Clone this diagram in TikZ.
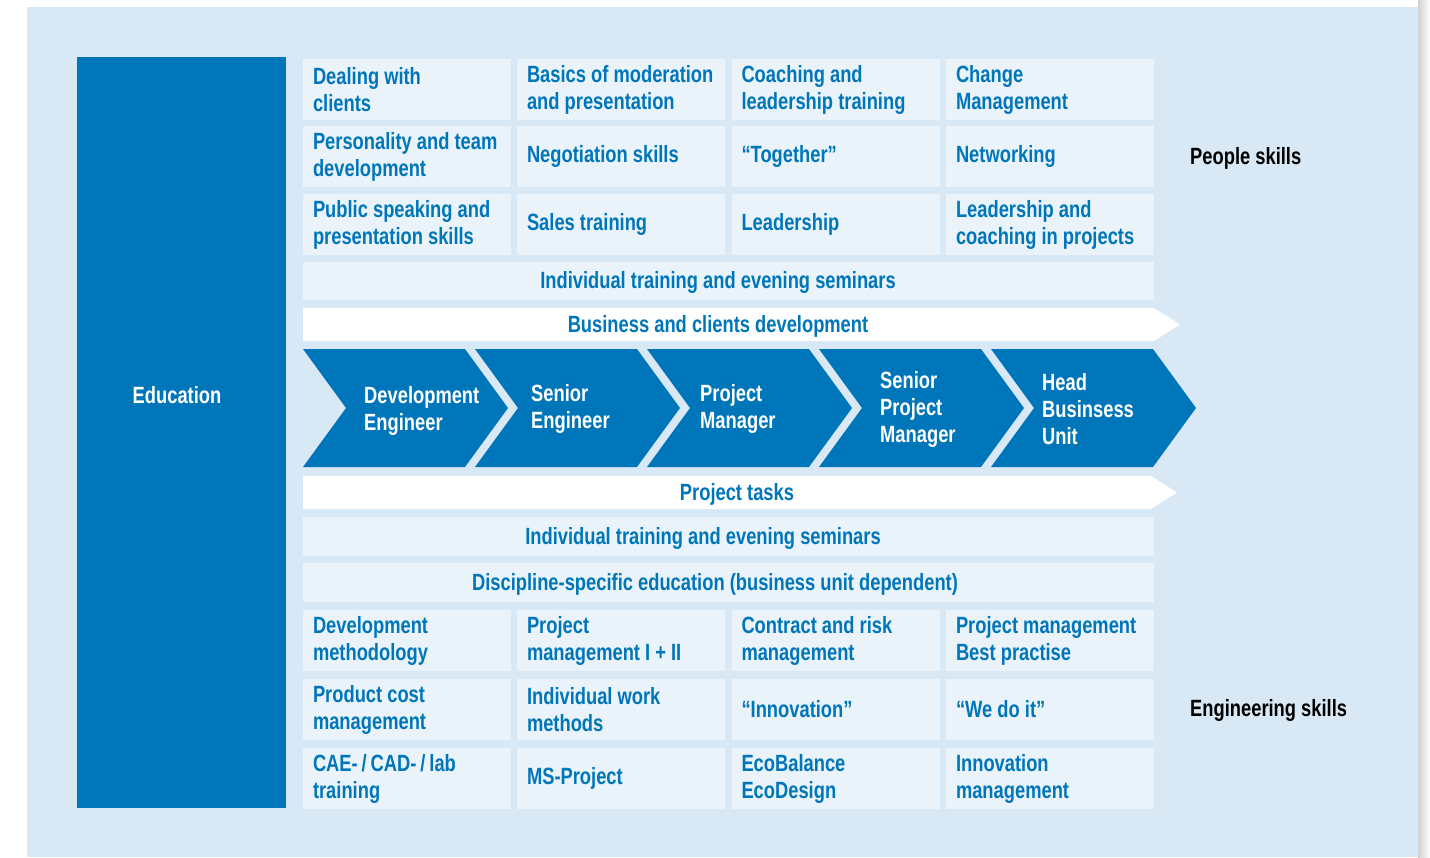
\documentclass[tikz,border=0pt]{standalone}
\usepackage{fontspec}
\setmainfont{Liberation Sans}[FakeStretch=0.78]
\usepackage{tikz}
\usetikzlibrary{positioning}
\definecolor{bleu}{RGB}{0,118,186}
\definecolor{fond}{RGB}{216,232,244}
\definecolor{case}{RGB}{234,243,250}
\newcommand{\skillfont}{\fontsize{23.5}{27}\selectfont\bfseries}

\begin{document}
\begin{tikzpicture}[x=1pt,y=-1pt,%
  cell/.style={fill=case,text=bleu,font=\skillfont,minimum width=208pt,minimum height=61pt,inner xsep=10pt,inner ysep=0pt,text width=188pt,align=flush left},%
  bandtext/.style={text=bleu,font=\skillfont,inner sep=0pt},%
  etape/.style={text=white,font=\skillfont,align=left,anchor=west,inner sep=0pt},%
  titre/.style={text=black,font=\skillfont,anchor=west,inner sep=0pt}]%
\useasboundingbox (0,0) rectangle (1430,857);%%
%%FOND
\fill[white] (0,0) rectangle (1430,857);%%
\shade[left color=black!18,right color=white] (1418,0) rectangle (1430,857);%%
\fill[fond] (27,7) rectangle (1418,857);%%
%%EDUCATION
\fill[bleu] (77,57) rectangle (286,808);%%
\node[text=white,font=\skillfont] (educ) at (177,395) {Education};%%
%%PEOPLE SKILLS
\node[cell] (dealing) at (407,89.5) {Dealing with\\clients};%%
\node[cell] (basics) at (621,89.5) {Basics of moderation\\and presentation};%%
\node[cell] (coaching) at (835.5,89.5) {Coaching and\\leadership training};%%
\node[cell] (change) at (1050,89.5) {Change\\Management};%%
\node[cell] (personality) at (407,156.5) {Personality and team\\development};%%
\node[cell] (negotiation) at (621,156.5) {Negotiation skills};%%
\node[cell] (together) at (835.5,156.5) {“Together”};%%
\node[cell] (networking) at (1050,156.5) {Networking};%%
\node[cell] (public) at (407,224.5) {Public speaking and\\presentation skills};%%
\node[cell] (sales) at (621,224.5) {Sales training};%%
\node[cell] (leadership) at (835.5,224.5) {Leadership};%%
\node[cell] (leadcoach) at (1050,224.5) {Leadership and\\coaching in projects};%%
\node[titre] (people) at (1190,158) {People skills};%%
%%BANDES
\fill[case] (303,262) rectangle (1154,300);%%
\node[bandtext] (indiv1) at (718,282) {Individual training and evening seminars};%%
\fill[white] (303,308) -- (1154,308) -- (1180,324.5) -- (1154,341) -- (303,341) -- cycle;%%
\node[bandtext] (business) at (718,326) {Business and clients development};%%
%%CARRIERE
\fill[bleu] (303,349) -- (465,349) -- (508,408) -- (465,467) -- (303,467) -- (346,408) -- cycle;%%
\fill[bleu] (475,349) -- (637,349) -- (680,408) -- (637,467) -- (475,467) -- (518,408) -- cycle;%%
\fill[bleu] (647,349) -- (809,349) -- (852,408) -- (809,467) -- (647,467) -- (690,408) -- cycle;%%
\fill[bleu] (819,349) -- (981,349) -- (1024,408) -- (981,467) -- (819,467) -- (862,408) -- cycle;%%
\fill[bleu] (991,349) -- (1153,349) -- (1196,408) -- (1153,467) -- (991,467) -- (1034,408) -- cycle;%%
\node[etape] (deveng) at (364,411) {Development\\Engineer};%%
\node[etape] (senioreng) at (531,408.5) {Senior\\Engineer};%%
\node[etape] (projman) at (700,408.5) {Project\\Manager};%%
\node[etape] (seniorpm) at (880,409) {Senior\\Project\\Manager};%%
\node[etape] (headbu) at (1042,409) {Head\\Businsess\\Unit};%%
%%BANDES BAS
\fill[white] (303,476) -- (1151,476) -- (1177,492.5) -- (1151,509) -- (303,509) -- cycle;%%
\node[bandtext] (tasks) at (737,494) {Project tasks};%%
\fill[case] (303,517) rectangle (1154,556);%%
\node[bandtext] (indiv2) at (703,538) {Individual training and evening seminars};%%
\fill[case] (303,563) rectangle (1154,602);%%
\node[bandtext] (discipline) at (715,584) {Discipline-specific education (business unit dependent)};%%
%%ENGINEERING SKILLS
\node[cell] (devmeth) at (407,640.5) {Development\\methodology};%%
\node[cell] (pmgmt) at (621,640.5) {Project\\management I + II};%%
\node[cell] (contract) at (835.5,640.5) {Contract and risk\\management};%%
\node[cell] (pmbest) at (1050,640.5) {Project management\\Best practise};%%
\node[cell] (cost) at (407,709.5) {Product cost\\management};%%
\node[cell] (workmeth) at (621,709.5) {Individual work\\methods};%%
\node[cell] (innov) at (835.5,709.5) {“Innovation”};%%
\node[cell] (wedoit) at (1050,709.5) {“We do it”};%%
\node[cell] (cae) at (407,778.5) {CAE-\,/\,CAD-\,/\,lab\\training};%%
\node[cell] (msproj) at (621,778.5) {MS-Project};%%
\node[cell] (eco) at (835.5,778.5) {EcoBalance\\EcoDesign};%%
\node[cell] (innovmgmt) at (1050,778.5) {Innovation\\management};%%
\node[titre] (engineering) at (1190,710) {Engineering skills};%%
\end{tikzpicture}
\end{document}
